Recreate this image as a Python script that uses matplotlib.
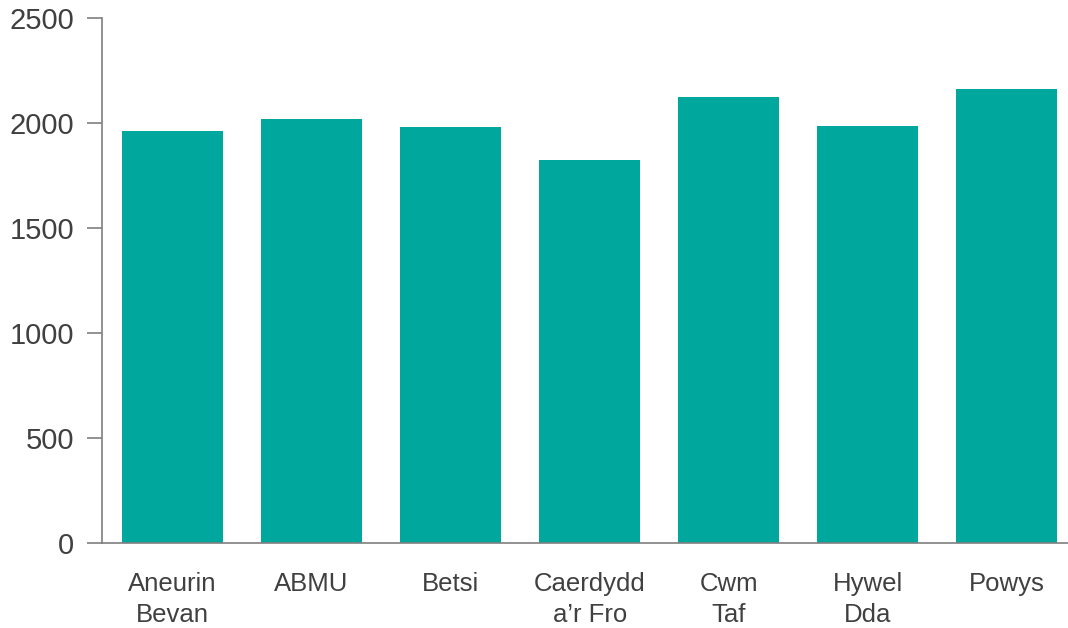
import matplotlib
matplotlib.use("Agg")
import matplotlib.pyplot as plt

plt.rcParams['font.family'] = ['Liberation Sans', 'DejaVu Sans']

boards = ["Aneurin\nBevan", "ABMU", "Betsi", "Caerdydd\na\u2019r Fro", "Cwm\nTaf", "Hywel\nDda", "Powys"]
values = [1962, 2019, 1981, 1824, 2124, 1986, 2162]
y_ticks = [0, 500, 1000, 1500, 2000, 2500]

BAR_COLOR = '#00A79D'
TEXT_COLOR = '#404040'
AXIS_COLOR = '#7f7f7f'

fig = plt.figure(figsize=(10.68, 6.28), dpi=100)
ax = fig.add_axes([102 / 1068, 85 / 628, 1 - 102 / 1068, (543 - 18) / 628])

x = range(len(boards))
ax.bar(x, values, width=0.727, color=BAR_COLOR)

ax.set_xlim(-0.507, 6.44)
ax.set_ylim(0, 2500)
ax.set_yticks(y_ticks)
ax.set_xticks(list(x))
ax.set_xticklabels(boards, linespacing=1.35)

for side in ['top', 'right']:
    ax.spines[side].set_visible(False)
ax.spines['left'].set_color(AXIS_COLOR)
ax.spines['bottom'].set_color(AXIS_COLOR)
ax.spines['left'].set_linewidth(1.2)
ax.spines['bottom'].set_linewidth(1.2)

ax.tick_params(axis='y', length=11, width=1.2, color=AXIS_COLOR, pad=9,
               labelsize=21, labelcolor=TEXT_COLOR)
ax.tick_params(axis='x', length=0, pad=21, labelsize=18.5, labelcolor=TEXT_COLOR)

fig.savefig('out.png', dpi=100)
